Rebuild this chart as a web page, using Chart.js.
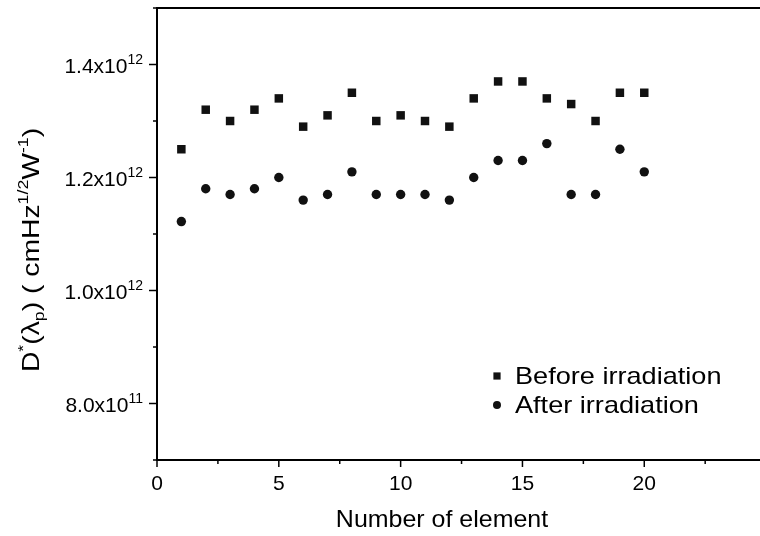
<!DOCTYPE html>
<html><head><meta charset="utf-8">
<script src="https://cdn.jsdelivr.net/npm/chart.js@4/dist/chart.umd.min.js"></script>
<style>html,body{margin:0;padding:0;background:#fff;overflow:hidden}</style>
</head><body>
<div style="width:760px;height:536px"><canvas id="c" width="760" height="536"></canvas></div>
<script>
const elements = [1,2,3,4,5,6,7,8,9,10,11,12,13,14,15,16,17,18,19,20];
const beforeIrradiation = [1.25e12,1.32e12,1.30e12,1.32e12,1.34e12,1.29e12,1.31e12,1.35e12,1.30e12,1.31e12,1.30e12,1.29e12,1.34e12,1.37e12,1.37e12,1.34e12,1.33e12,1.30e12,1.35e12,1.35e12];
const afterIrradiation = [1.122e12,1.18e12,1.17e12,1.18e12,1.20e12,1.16e12,1.17e12,1.21e12,1.17e12,1.17e12,1.17e12,1.16e12,1.20e12,1.23e12,1.23e12,1.26e12,1.17e12,1.17e12,1.25e12,1.21e12];
const seriesNames = ['Before irradiation','After irradiation'];
const xTicks = [0,5,10,15,20];
const xMinorTicks = [2.5,7.5,12.5,17.5,22.5];
const yTicks = [8.0e11,1.0e12,1.2e12,1.4e12];
const yTickMantissa = ['8.0x10','1.0x10','1.2x10','1.4x10'];
const yTickExponent = ['11','12','12','12'];
const yMinorTicks = [7e11,9e11,1.1e12,1.3e12,1.5e12];
const xTitle = 'Number of element';

const FONT = '"Liberation Sans", Arial, sans-serif';

const decor = {
  id: 'decor',
  afterDraw(chart) {
    const ctx = chart.ctx, a = chart.chartArea;
    const xs = chart.scales.x, ys = chart.scales.y;
    ctx.save();
    ctx.strokeStyle = '#000'; ctx.fillStyle = '#000';
    ctx.lineWidth = 2;
    ctx.beginPath(); ctx.moveTo(a.left - 1, a.top); ctx.lineTo(a.right, a.top); ctx.stroke();
    ctx.lineWidth = 1.5;
    xTicks.forEach(v => { const p = xs.getPixelForValue(v); ctx.beginPath(); ctx.moveTo(p, a.bottom); ctx.lineTo(p, a.bottom + 7); ctx.stroke(); });
    xMinorTicks.forEach(v => { const p = xs.getPixelForValue(v); ctx.beginPath(); ctx.moveTo(p, a.bottom); ctx.lineTo(p, a.bottom + 4); ctx.stroke(); });
    yTicks.forEach(v => { const p = ys.getPixelForValue(v); ctx.beginPath(); ctx.moveTo(a.left, p); ctx.lineTo(a.left - 8, p); ctx.stroke(); });
    yMinorTicks.forEach(v => { const p = ys.getPixelForValue(v); ctx.beginPath(); ctx.moveTo(a.left, p); ctx.lineTo(a.left - 4, p); ctx.stroke(); });
    ctx.font = '21px ' + FONT; ctx.textAlign = 'center'; ctx.textBaseline = 'alphabetic';
    xTicks.forEach(v => ctx.fillText(String(v), xs.getPixelForValue(v), a.bottom + 30));
    yTicks.forEach((v, i) => {
      const p = ys.getPixelForValue(v);
      ctx.font = '14px ' + FONT;
      const ew = ctx.measureText(yTickExponent[i]).width;
      const right = a.left - 14;
      ctx.textAlign = 'right';
      ctx.fillText(yTickExponent[i], right, p - 1);
      ctx.font = '21px ' + FONT;
      ctx.fillText(yTickMantissa[i], right - ew, p + 8);
    });
    ctx.save();
    ctx.translate(442, 527); ctx.scale(1.04, 1);
    ctx.font = '24px ' + FONT; ctx.textAlign = 'center';
    ctx.fillText(xTitle, 0, 0);
    ctx.restore();
    ctx.save();
    ctx.translate(39, 250); ctx.rotate(-Math.PI / 2); ctx.scale(1.18, 1);
    const parts = [
      ['D', 24, 0], ['*', 15, -11], ['(λ', 24, 0], ['p', 15, 5], [') ( cmHz', 24, 0], ['1/2', 15, -11], ['W', 24, 0], ['-1', 15, -11], [')', 24, 0]
    ];
    let total = 0;
    parts.forEach(p => { ctx.font = p[1] + 'px ' + FONT; total += ctx.measureText(p[0]).width; });
    let x = -total / 2;
    ctx.textAlign = 'left';
    parts.forEach(p => { ctx.font = p[1] + 'px ' + FONT; ctx.fillText(p[0], x, p[2]); x += ctx.measureText(p[0]).width; });
    ctx.restore();
    const ly = [376, 405];
    chart.data.datasets.forEach((d, i) => {
      ctx.fillStyle = d.backgroundColor;
      Chart.helpers.drawPoint(ctx, { pointStyle: d.pointStyle, radius: d.pointRadius * 0.85, borderWidth: 0 }, 497, ly[i]);
      ctx.fillStyle = '#000';
      ctx.save();
      ctx.translate(515, ly[i] + 1); ctx.scale(1.13, 1);
      ctx.font = '24px ' + FONT; ctx.textAlign = 'left'; ctx.textBaseline = 'middle';
      ctx.fillText(seriesNames[i], 0, 0);
      ctx.restore();
    });
    ctx.restore();
  }
};

new Chart(document.getElementById('c'), {
  type: 'scatter',
  data: {
    datasets: [
      { label: seriesNames[0], data: elements.map((x, i) => ({ x, y: beforeIrradiation[i] })), pointStyle: 'rect', pointRadius: 6, backgroundColor: '#111', borderWidth: 0 },
      { label: seriesNames[1], data: elements.map((x, i) => ({ x, y: afterIrradiation[i] })), pointStyle: 'circle', pointRadius: 4.7, backgroundColor: '#111', borderWidth: 0 }
    ]
  },
  options: {
    responsive: false, animation: false, devicePixelRatio: 1,
    layout: { autoPadding: false, padding: { top: 8, right: 0, left: 0, bottom: 0 } },
    plugins: { legend: { display: false }, tooltip: { enabled: false } },
    scales: {
      x: { type: 'linear', min: 0, max: 24.75, ticks: { display: false }, grid: { display: false }, border: { display: true, color: '#000', width: 2 }, afterFit: s => { s.height = 76; } },
      y: { type: 'linear', min: 7e11, max: 1.5e12, ticks: { display: false }, grid: { display: false }, border: { display: true, color: '#000', width: 2 }, afterFit: s => { s.width = 157; } }
    }
  },
  plugins: [decor]
});
</script>
</body></html>
